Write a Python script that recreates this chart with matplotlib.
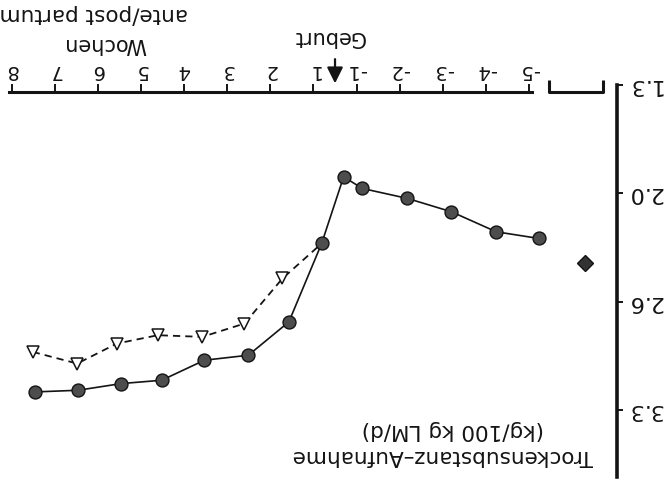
import numpy as np
import matplotlib.pyplot as plt

# Achsenposition: -5..-1 -> 0..4, 1..8 -> 5..12 (keine Woche 0)
wochen_pos = np.arange(13)
wochen_lab = ['-5', '-4', '-3', '-2', '-1', '1', '2', '3', '4', '5', '6', '7', '8']
geburt_pos = 4.5

y_ticks = [1.3, 1.95, 2.6, 3.25]
y_lab = ['1.3', '2.0', '2.6', '3.3']

# Trockensubstanz-Aufnahme, Kreise (durchgezogen)
pos_kreis = [11.46, 10.46, 9.46, 8.52, 7.53, 6.51, 5.57, 4.81, 4.30, 3.87, 2.82, 1.80, 0.76, -0.23]
ts_kreis = [3.14, 3.13, 3.09, 3.07, 2.95, 2.92, 2.72, 2.25, 1.85, 1.92, 1.98, 2.06, 2.18, 2.22]

# Dreiecke (gestrichelt), letzter Punkt trifft die Kreiskurve
pos_dreieck = [11.51, 10.48, 9.56, 8.61, 7.58, 6.60, 5.72, 4.81]
ts_dreieck = [2.90, 2.97, 2.85, 2.80, 2.81, 2.73, 2.46, 2.25]

# Einzelwert (Raute) im abgesetzten Achsenstueck
pos_raute = [-1.30]
ts_raute = [2.37]

schwarz = '#141414'

fig = plt.figure(figsize=(6.67, 4.82), dpi=100)
ax = fig.add_axes([0.0, 3 / 482, 617 / 667, 399 / 482])
ax.set_xlim(12.27, -2.04)
ax.set_ylim(3.662, 1.270)

x_achse_y = 1.342
ax.spines['left'].set_visible(False)
ax.spines['bottom'].set_visible(False)
ax.spines['top'].set_position(('data', x_achse_y))
ax.spines['top'].set_bounds(-0.07, 12.05)
ax.spines['top'].set_linewidth(2.2)
ax.spines['top'].set_color(schwarz)
ax.spines['right'].set_bounds(1.3, 3.65)
ax.spines['right'].set_linewidth(2.6)
ax.spines['right'].set_color(schwarz)

ax.xaxis.tick_top()
ax.yaxis.tick_right()
ax.set_xticks(wochen_pos, wochen_lab)
ax.set_yticks(y_ticks, y_lab)
ax.tick_params(axis='x', direction='out', length=6, width=1.4, pad=3,
               labelsize=14, labelrotation=180, colors=schwarz)
ax.tick_params(axis='y', direction='out', length=4, width=1.4, pad=3,
               labelsize=16, labelrotation=180, colors=schwarz)
for lab in ax.get_yticklabels():
    lab.set_va('center')

# abgesetztes Achsenstueck mit Klammerenden
kl_l, kl_r = -0.46, -1.72
ax.plot([kl_l, kl_l, kl_r, kl_r], [1.270, x_achse_y, x_achse_y, 1.270],
        color=schwarz, lw=2.2, clip_on=False, solid_capstyle='butt')

ax.plot(pos_dreieck, ts_dreieck, color=schwarz, lw=1.3, dashes=(4, 2.8),
        marker='v', markersize=8, markerfacecolor='white', markeredgecolor=schwarz,
        markeredgewidth=1.1, markevery=list(range(len(pos_dreieck) - 1)), zorder=3)
ax.plot(pos_kreis, ts_kreis, color=schwarz, lw=1.2, marker='o', markersize=9.3,
        markerfacecolor='#4d4d4d', markeredgecolor=schwarz, markeredgewidth=1.0, zorder=4)
ax.plot(pos_raute, ts_raute, linestyle='none', marker='D', markersize=8.5,
        markerfacecolor='#333333', markeredgecolor=schwarz, zorder=4)

# Geburtspfeil
ax.annotate('', xy=(geburt_pos, 1.29), xytext=(geburt_pos, 1.145),
            arrowprops=dict(arrowstyle='-|>,head_length=0.4,head_width=0.2',
                            color=schwarz, lw=1.6, mutation_scale=24,
                            shrinkA=0, shrinkB=0),
            annotation_clip=False)

txt = dict(rotation=180, ha='center', va='center', color=schwarz, clip_on=False)
ax.text(4.64, 1.010, 'Geburt', fontsize=15, **txt)
ax.text(9.84, 1.055, 'Wochen', fontsize=15, **txt)
ax.text(10.09, 0.874, 'ante/post partum', fontsize=15.5, **txt)
ax.text(2.0, 3.524, 'Trockensubstanz\u2013Aufnahme', fontsize=15.5, **txt)
ax.text(1.76, 3.368, '(kg/100 kg LM/d)', fontsize=15.5, **txt)

fig.savefig('out.png', dpi=100)
